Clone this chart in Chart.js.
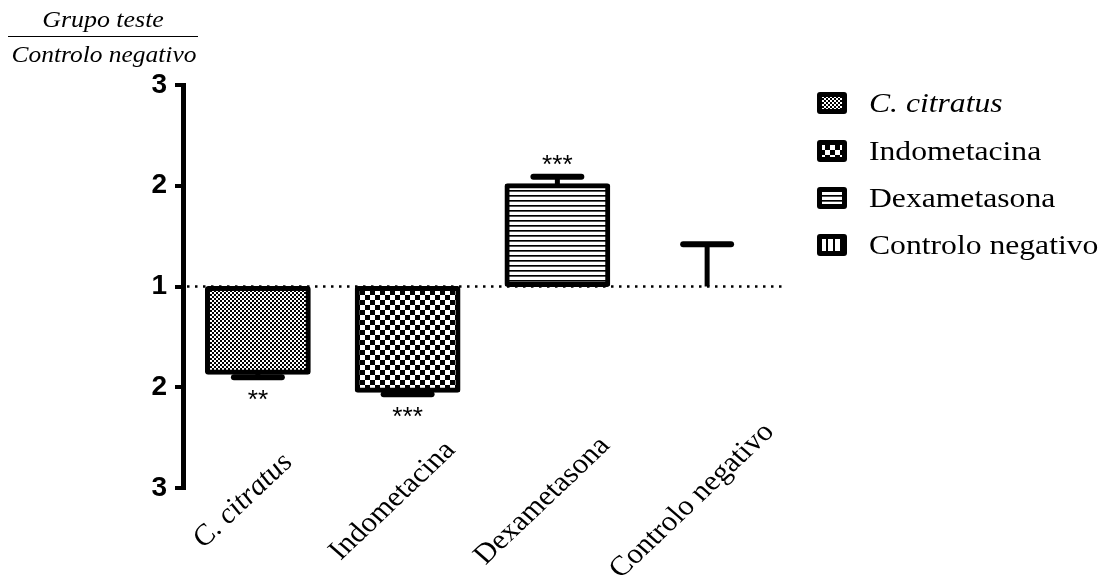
<!DOCTYPE html>
<html><head><meta charset="utf-8">
<script src="https://cdn.jsdelivr.net/npm/chart.js@4.4.0/dist/chart.umd.min.js"></script>
<style>html,body{margin:0;padding:0;background:#fff}#wrap{width:1102px;height:575px;position:relative}</style>
</head><body><div id="wrap"><canvas id="c" width="1102" height="575"></canvas></div>
<script>
// ---- data ----
const categories = ['C. citratus', 'Indometacina', 'Dexametasona', 'Controlo negativo'];
const italicCategory = [true, false, false, false];
const meanValues = [-0.85, -1.03, 1.0, 0];
const semValues = [0.05, 0.04, 0.09, 0.42];
const errorDirection = [-1, -1, 1, 1];
const significance = ['**', '***', '***', ''];
const yTickValues = [-2, -1, 0, 1, 2];
const yTickLabels = ['3', '2', '1', '2', '3'];
const titleTop = 'Grupo teste';
const titleBottom = 'Controlo negativo';
const patternKinds = ['fine', 'coarse', 'hlines', 'vlines'];

// ---- styling helpers ----
const SERIF = '"Liberation Serif", "Times New Roman", serif';
const SANS = '"Liberation Sans", Arial, sans-serif';

function makePattern(kind) {
  const c = document.createElement('canvas');
  let g;
  if (kind === 'fine') {
    c.width = 4; c.height = 4; g = c.getContext('2d');
    g.fillStyle = '#fff'; g.fillRect(0, 0, 4, 4);
    g.fillStyle = '#000'; g.fillRect(0, 0, 2, 2); g.fillRect(2, 2, 2, 2);
  } else if (kind === 'coarse') {
    c.width = 10; c.height = 10; g = c.getContext('2d');
    g.fillStyle = '#fff'; g.fillRect(0, 0, 10, 10);
    g.fillStyle = '#000'; g.fillRect(0, 0, 5, 5); g.fillRect(5, 5, 5, 5);
  } else if (kind === 'hlines') {
    c.width = 5; c.height = 5; g = c.getContext('2d');
    g.fillStyle = '#fff'; g.fillRect(0, 0, 5, 5);
    g.fillStyle = '#000'; g.fillRect(0, 0, 5, 1);
    g.fillStyle = '#555'; g.fillRect(0, 1, 5, 1);
  } else {
    c.width = 7; c.height = 7; g = c.getContext('2d');
    g.fillStyle = '#fff'; g.fillRect(0, 0, 7, 7);
    g.fillStyle = '#000'; g.fillRect(0, 0, 2, 7);
  }
  return g.createPattern(c, 'repeat');
}
const patterns = patternKinds.map(makePattern);

function sText(ctx, text, x, y, font, sx, align, baseline, angleDeg) {
  ctx.save();
  ctx.translate(x, y);
  ctx.scale(sx, 1);
  if (angleDeg) ctx.rotate(-angleDeg * Math.PI / 180);
  ctx.font = font;
  ctx.textAlign = align || 'left';
  ctx.textBaseline = baseline || 'alphabetic';
  ctx.fillStyle = '#000';
  ctx.fillText(text, 0, 0);
  ctx.restore();
}

function roundRect(ctx, x, y, w, h, r) {
  ctx.beginPath();
  ctx.moveTo(x + r, y);
  ctx.lineTo(x + w - r, y); ctx.quadraticCurveTo(x + w, y, x + w, y + r);
  ctx.lineTo(x + w, y + h - r); ctx.quadraticCurveTo(x + w, y + h, x + w - r, y + h);
  ctx.lineTo(x + r, y + h); ctx.quadraticCurveTo(x, y + h, x, y + h - r);
  ctx.lineTo(x, y + r); ctx.quadraticCurveTo(x, y, x + r, y);
  ctx.closePath();
}

const baselinePlugin = {
  id: 'baseline',
  beforeDatasetsDraw(chart) {
    const ctx = chart.ctx, ys = chart.scales.y, a = chart.chartArea;
    const y0 = ys.getPixelForValue(0);
    ctx.save();
    ctx.strokeStyle = '#000'; ctx.lineWidth = 2.5;
    ctx.setLineDash([2.5, 5.5]);
    ctx.beginPath(); ctx.moveTo(a.left + 4, y0); ctx.lineTo(a.right, y0); ctx.stroke();
    ctx.restore();
  }
};

const errorPlugin = {
  id: 'errors',
  afterDatasetsDraw(chart) {
    const ctx = chart.ctx, ys = chart.scales.y, xs = chart.scales.x;
    const meta = chart.getDatasetMeta(0);
    const catW = xs.width / categories.length;
    ctx.save();
    ctx.strokeStyle = '#000';
    meta.data.forEach((bar, i) => {
      const x = bar.x;
      const y0 = ys.getPixelForValue(meanValues[i]);
      const endV = meanValues[i] + errorDirection[i] * semValues[i];
      const y1 = ys.getPixelForValue(endV);
      ctx.lineWidth = 5; ctx.lineCap = 'butt';
      ctx.beginPath(); ctx.moveTo(x, y0); ctx.lineTo(x, y1); ctx.stroke();
      const hw = catW * 0.18;
      ctx.lineWidth = 6; ctx.lineCap = 'round';
      ctx.beginPath(); ctx.moveTo(x - hw + 3, y1); ctx.lineTo(x + hw - 3, y1); ctx.stroke();
      if (significance[i]) {
        const ty = errorDirection[i] < 0 ? y1 + 31 : y1 - 4;
        sText(ctx, significance[i], x, ty, '25px ' + SANS, 1.05, 'center', 'alphabetic');
      }
    });
    ctx.restore();
  }
};

const decorPlugin = {
  id: 'decor',
  afterDraw(chart) {
    const ctx = chart.ctx, xs = chart.scales.x;
    // y-axis title (fraction)
    sText(ctx, titleTop, 103, 27, 'italic 24px ' + SERIF, 1.08, 'center');
    ctx.save(); ctx.strokeStyle = '#000'; ctx.lineWidth = 1;
    ctx.beginPath(); ctx.moveTo(8, 36.5); ctx.lineTo(198, 36.5); ctx.stroke(); ctx.restore();
    sText(ctx, titleBottom, 104, 62, 'italic 24px ' + SERIF, 1.06, 'center');
    // rotated category labels
    categories.forEach((lab, i) => {
      const cx = xs.getPixelForValue(i);
      const f = (italicCategory[i] ? 'italic ' : '') + '28px ' + SERIF;
      sText(ctx, lab, cx - 15, 501, f, 1.1, 'center', 'middle', 46.2);
    });
    // legend
    const rows = [103, 151, 198, 245];
    categories.forEach((lab, i) => {
      const cy = rows[i];
      ctx.save();
      roundRect(ctx, 817, cy - 11, 30, 22, 3);
      ctx.fillStyle = '#000'; ctx.fill();
      ctx.fillStyle = patterns[i];
      ctx.fillRect(822, cy - 6, 20, 12);
      ctx.restore();
      const f = (italicCategory[i] ? 'italic ' : '') + '28px ' + SERIF;
      sText(ctx, lab, 869, cy + 9, f, 1.13, 'left');
    });
  }
};

new Chart(document.getElementById('c').getContext('2d'), {
  type: 'bar',
  data: {
    labels: categories,
    datasets: [{
      data: meanValues,
      backgroundColor: patterns.map((p, i) => meanValues[i] === 0 ? 'rgba(0,0,0,0)' : p),
      borderColor: '#000',
      borderWidth: meanValues.map(v => v === 0 ? 0 : 5),
      borderRadius: 3,
      borderSkipped: false,
      inflateAmount: 2.5,
      barPercentage: 0.673,
      categoryPercentage: 1
    }]
  },
  options: {
    responsive: false,
    animation: false,
    devicePixelRatio: 1,
    layout: { padding: { top: 85, right: 320, bottom: 87, left: 0 } },
    plugins: { legend: { display: false }, tooltip: { enabled: false } },
    scales: {
      x: { display: false },
      y: {
        min: -2, max: 2,
        afterFit(s) { s.width = 183; },
        afterBuildTicks(s) { s.ticks = yTickValues.map(v => ({ value: v })); },
        ticks: {
          callback: (v, i) => yTickLabels[i],
          font: { family: SANS, size: 28, weight: 'bold' },
          color: '#000', padding: 8
        },
        grid: { drawOnChartArea: false, tickLength: 8, lineWidth: 4, color: '#000' },
        border: { display: true, width: 5, color: '#000' }
      }
    }
  },
  plugins: [baselinePlugin, errorPlugin, decorPlugin]
});
</script>
</body></html>
